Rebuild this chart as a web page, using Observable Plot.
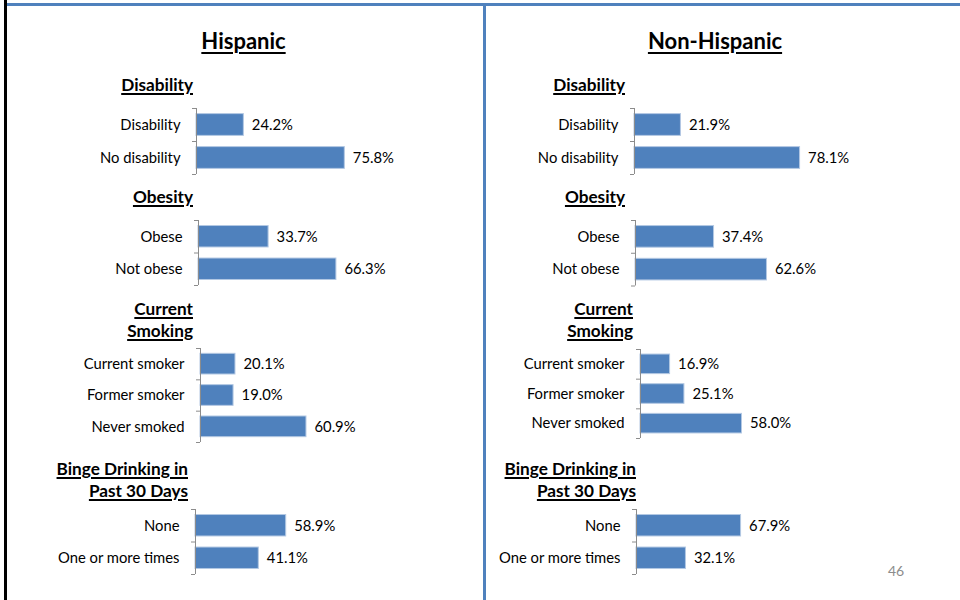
<!DOCTYPE html>
<html>
<head>
<meta charset="utf-8">
<script src="https://cdn.jsdelivr.net/npm/d3@7"></script>
<script src="https://cdn.jsdelivr.net/npm/@observablehq/plot@0.6"></script>
<style>
  html, body { margin: 0; padding: 0; background: #fff; }
  #slide { position: relative; width: 960px; height: 600px; overflow: hidden; font-family: Lato, "Open Sans", sans-serif; color: #000; }
  .abs { position: absolute; }
  .title { font-weight: bold; font-size: 22px; text-decoration: underline; text-decoration-thickness: 2px; text-underline-offset: 3px; white-space: nowrap; }
  .sect { font-weight: bold; font-size: 17.2px; text-decoration: underline; text-decoration-thickness: 1.5px; text-underline-offset: 2px; text-align: right; line-height: 22px; white-space: nowrap; }
  .pagenum { font-size: 14px; color: #8c8c8c; }
</style>
</head>
<body>
<div id="slide"></div>
<script>
// ---------- data ----------
const panelTitles = ["Hispanic", "Non-Hispanic"];
const sectionTitles = [["Disability"], ["Obesity"], ["Current", "Smoking"], ["Binge Drinking in", "Past 30 Days"]];

const disabilityCats = ["Disability", "No disability"];
const obesityCats = ["Obese", "Not obese"];
const smokingCats = ["Current smoker", "Former smoker", "Never smoked"];
const bingeCats = ["None", "One or more times"];

const hispanicDisability = [24.2, 75.8];
const hispanicObesity = [33.7, 66.3];
const hispanicSmoking = [20.1, 19.0, 60.9];
const hispanicBinge = [58.9, 41.1];

const nonHispanicDisability = [21.9, 78.1];
const nonHispanicObesity = [37.4, 62.6];
const nonHispanicSmoking = [16.9, 25.1, 58.0];
const nonHispanicBinge = [67.9, 32.1];

const pageNumber = "46";

// ---------- layout (pixels) ----------
const BLUE = "#4F81BD";
const charts = [
  {cats: disabilityCats, vals: hispanicDisability,    ax: 196,   top: 108,   bot: 174,   k: 1.957},
  {cats: obesityCats,    vals: hispanicObesity,       ax: 197.5, top: 220,   bot: 285,   k: 2.08},
  {cats: smokingCats,    vals: hispanicSmoking,       ax: 199.5, top: 347.5, bot: 441.5, k: 1.74},
  {cats: bingeCats,      vals: hispanicBinge,         ax: 195,   top: 508.5, bot: 573.5, k: 1.54},
  {cats: disabilityCats, vals: nonHispanicDisability, ax: 633.5, top: 108,   bot: 174,   k: 2.12},
  {cats: obesityCats,    vals: nonHispanicObesity,    ax: 634.5, top: 219.5, bot: 285,   k: 2.10},
  {cats: smokingCats,    vals: nonHispanicSmoking,    ax: 639.5, top: 348.5, bot: 437.5, k: 1.75},
  {cats: bingeCats,      vals: nonHispanicBinge,      ax: 636,   top: 508.5, bot: 573.5, k: 1.54}
];
const sectionPos = [ // right edge, top of first line
  [{r: 193, t: 74}, {r: 193, t: 186}, {r: 193, t: 298}, {r: 188, t: 458}],
  [{r: 625, t: 74}, {r: 625, t: 186}, {r: 633, t: 298}, {r: 636, t: 458}]
];
const titleCenters = [243.5, 715];

const slide = document.getElementById("slide");

// frame lines
function line(l, t, w, h, c) {
  const d = document.createElement("div");
  d.className = "abs";
  Object.assign(d.style, {left: l + "px", top: t + "px", width: w + "px", height: h + "px", background: c});
  slide.appendChild(d);
}
line(6, 3, 954, 3, BLUE);
line(4, 0, 2.5, 600, "#000");
line(483, 6, 3, 594, BLUE);

// titles
panelTitles.forEach((t, i) => {
  const d = document.createElement("div");
  d.className = "abs title";
  d.textContent = t;
  d.style.left = titleCenters[i] + "px";
  d.style.top = "27px";
  d.style.transform = "translateX(-50%)";
  slide.appendChild(d);
});

sectionPos.forEach((pp, p) => pp.forEach((pos, s) => {
  const d = document.createElement("div");
  d.className = "abs sect";
  d.innerHTML = sectionTitles[s].map(x => `<span>${x}</span>`).join("<br>");
  d.style.right = (960 - pos.r) + "px";
  d.style.top = pos.t + "px";
  slide.appendChild(d);
}));

// charts
const mL = 170, mR = 70, mT = 2, mB = 2;
charts.forEach(c => {
  const n = c.cats.length;
  const data = c.cats.map((cat, i) => ({cat, i, v: c.vals[i]}));
  const chartH = c.bot - c.top;
  const plot = Plot.plot({
    width: mL + 100 * c.k + mR,
    height: chartH + mT + mB,
    marginLeft: mL, marginRight: mR, marginTop: mT, marginBottom: mB,
    style: {fontFamily: "Lato, 'Open Sans', sans-serif", fontSize: "14.8px", color: "#000", overflow: "visible", background: "transparent"},
    x: {domain: [0, 100], axis: null},
    y: {domain: [n, 0], axis: null},
    marks: [
      Plot.rect(data, {x1: 0, x2: "v", y1: d => d.i + 0.17, y2: d => d.i + 0.83, fill: BLUE, stroke: "#B3C8E3", strokeWidth: 1, inset: 0}),
      Plot.ruleX([0], {stroke: "#8c8c8c", strokeWidth: 1}),
      Plot.axisY(d3.range(n + 1), {tickSize: 4, tickFormat: () => "", stroke: "#8c8c8c", strokeWidth: 1}),
      Plot.axisY(data.map(d => d.i + 0.5), {tickSize: 0, tickPadding: 16, tickFormat: y => c.cats[Math.floor(y)], fill: "#000", fontSize: 14.8}),
      Plot.text(data, {x: "v", y: d => d.i + 0.5, text: d => d.v.toFixed(1) + "%", textAnchor: "start", dx: 8, fill: "#000", fontSize: 14.8})
    ]
  });
  plot.style.position = "absolute";
  plot.style.left = (c.ax - mL) + "px";
  plot.style.top = (c.top - mT) + "px";
  slide.appendChild(plot);
});

const pn = document.createElement("div");
pn.className = "abs pagenum";
pn.textContent = pageNumber;
pn.style.left = "888px";
pn.style.top = "562px";
slide.appendChild(pn);
</script>
</body>
</html>
